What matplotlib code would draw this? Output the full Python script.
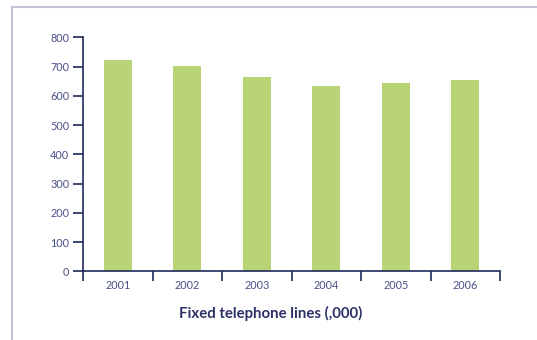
import matplotlib.pyplot as plt
from matplotlib.lines import Line2D

years = ["2001", "2002", "2003", "2004", "2005", "2006"]
lines_000 = [723, 702, 664, 632, 644, 655]
y_ticks = [0, 100, 200, 300, 400, 500, 600, 700, 800]

NAVY = "#1f2a5c"
LABEL = "#4a5088"
GREEN = "#b9d377"

plt.rcParams["font.family"] = ["Lato", "DejaVu Sans"]

fig = plt.figure(figsize=(5.37, 3.4), dpi=100)
ax = fig.add_axes([0.1546, 0.2015, 0.7765, 0.6888])

pos = list(range(len(years)))
ax.bar(pos, lines_000, width=0.4, color=GREEN, zorder=2)

ax.set_xlim(-0.5, len(years) - 0.5)
ax.set_ylim(0, 800)
ax.set_yticks(y_ticks)
ax.set_yticklabels([str(v) for v in y_ticks])

# labels sit under the bars, tick marks fall between categories
ax.set_xticks(pos)
ax.set_xticklabels(years)
ax.set_xticks([p - 0.5 for p in range(len(years) + 1)], minor=True)
ax.tick_params(axis="x", which="major", length=0, pad=6,
               labelsize=7.8, labelcolor=LABEL)
ax.tick_params(axis="x", which="minor", length=7, width=1.2,
               color=NAVY, direction="out")
ax.tick_params(axis="y", length=7, width=1.2, color=NAVY, pad=3,
               labelsize=7.8, labelcolor=LABEL)

for side in ["top", "right"]:
    ax.spines[side].set_visible(False)
for side in ["left", "bottom"]:
    ax.spines[side].set_color(NAVY)
    ax.spines[side].set_linewidth(1.2)

fig.text(0.5047, 1 - 318 / 340, "Fixed telephone lines (,000)", ha="center",
         va="baseline", fontsize=10.8, fontweight="bold", color="#2c3266")

# light frame along the top and left edges
frame = "#c4c4d4"
fig.add_artist(Line2D([12 / 537, 1], [1 - 7 / 340, 1 - 7 / 340],
                      color=frame, linewidth=1.5))
fig.add_artist(Line2D([12 / 537, 12 / 537], [0, 1 - 7 / 340],
                      color=frame, linewidth=1.5))

fig.savefig("out.png", dpi=100)
